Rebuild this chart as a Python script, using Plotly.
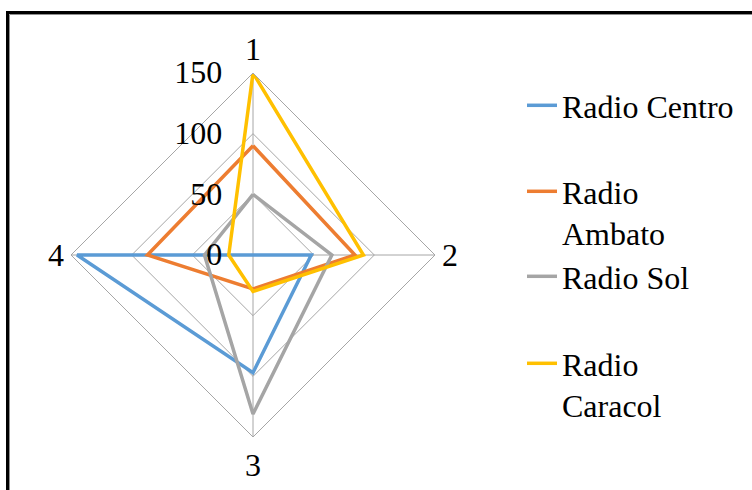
import plotly.graph_objects as go

# Axis categories and values per station
categories = ["1", "2", "3", "4"]
series_names = ["Radio Centro", "Radio<br>Ambato", "Radio Sol", "Radio<br>Caracol"]
radio_centro = [0, 48, 97, 145]
radio_ambato = [90, 84, 28, 87]
radio_sol = [50, 65, 131, 40]
radio_caracol = [150, 91, 30, 20]
radial_ticks = [0, 50, 100, 150]

colors = ["#5B9BD5", "#ED7D31", "#A5A5A5", "#FFC000"]
all_values = [radio_centro, radio_ambato, radio_sol, radio_caracol]
legend_ids = ["legend", "legend2", "legend3", "legend4"]

FONT = "Liberation Serif"
FS = 32
W, H = 752, 490

fig = go.Figure()
for name, vals, col, lg in zip(series_names, all_values, colors, legend_ids):
    fig.add_trace(go.Scatterpolar(
        r=vals + [vals[0]],
        theta=categories + [categories[0]],
        mode="lines",
        line=dict(color=col, width=3.5),
        name=name,
        legend=lg,
        showlegend=True,
    ))

# polar area centred at (253, 255) px with radius ~182 px
cx, cy, rad = 253, 255, 182
dom_x = [(cx - rad) / W, (cx + rad) / W]
dom_y = [(H - cy - rad) / H, (H - cy + rad) / H]

grid = "#A6A6A6"
fig.update_layout(
    width=W, height=H,
    margin=dict(l=0, r=0, t=0, b=0),
    paper_bgcolor="white",
    showlegend=True,
    font=dict(family=FONT, size=FS, color="black"),
    polar=dict(
        domain=dict(x=dom_x, y=dom_y),
        gridshape="linear",
        bgcolor="white",
        radialaxis=dict(
            range=[0, 150], tickvals=radial_ticks, angle=90, tickangle=90,
            side="counterclockwise",
            showline=False, gridcolor=grid, gridwidth=1,
            ticks="outside", ticklen=19, tickcolor="rgba(0,0,0,0)",
            tickfont=dict(family=FONT, size=FS, color="black"),
        ),
        angularaxis=dict(
            direction="clockwise", rotation=90,
            gridcolor=grid, linecolor=grid, showline=True, linewidth=1, ticks="",
            tickfont=dict(family=FONT, size=FS, color="black"),
        ),
    ),
)

legend_tops = [107, 193, 278, 365]
for lg, ytop in zip(legend_ids, legend_tops):
    fig.update_layout({lg: dict(
        x=(522) / W, xanchor="left",
        y=1 - (ytop - 29) / H, yanchor="top",
        bgcolor="rgba(0,0,0,0)", valign="top",
        font=dict(family=FONT, size=FS, color="black"),
    )})

# chart frame: thick black border with a thin grey inner line
fig.add_shape(type="rect", xref="paper", yref="paper",
              x0=7.5 / W, x1=1.2, y0=-0.2, y1=1 - 12.5 / H,
              line=dict(color="black", width=3), fillcolor="rgba(0,0,0,0)")
fig.add_shape(type="rect", xref="paper", yref="paper",
              x0=9.5 / W, x1=1.2, y0=-0.2, y1=1 - 14.5 / H,
              line=dict(color="#909090", width=1), fillcolor="rgba(0,0,0,0)")

fig.write_html("out.html")
